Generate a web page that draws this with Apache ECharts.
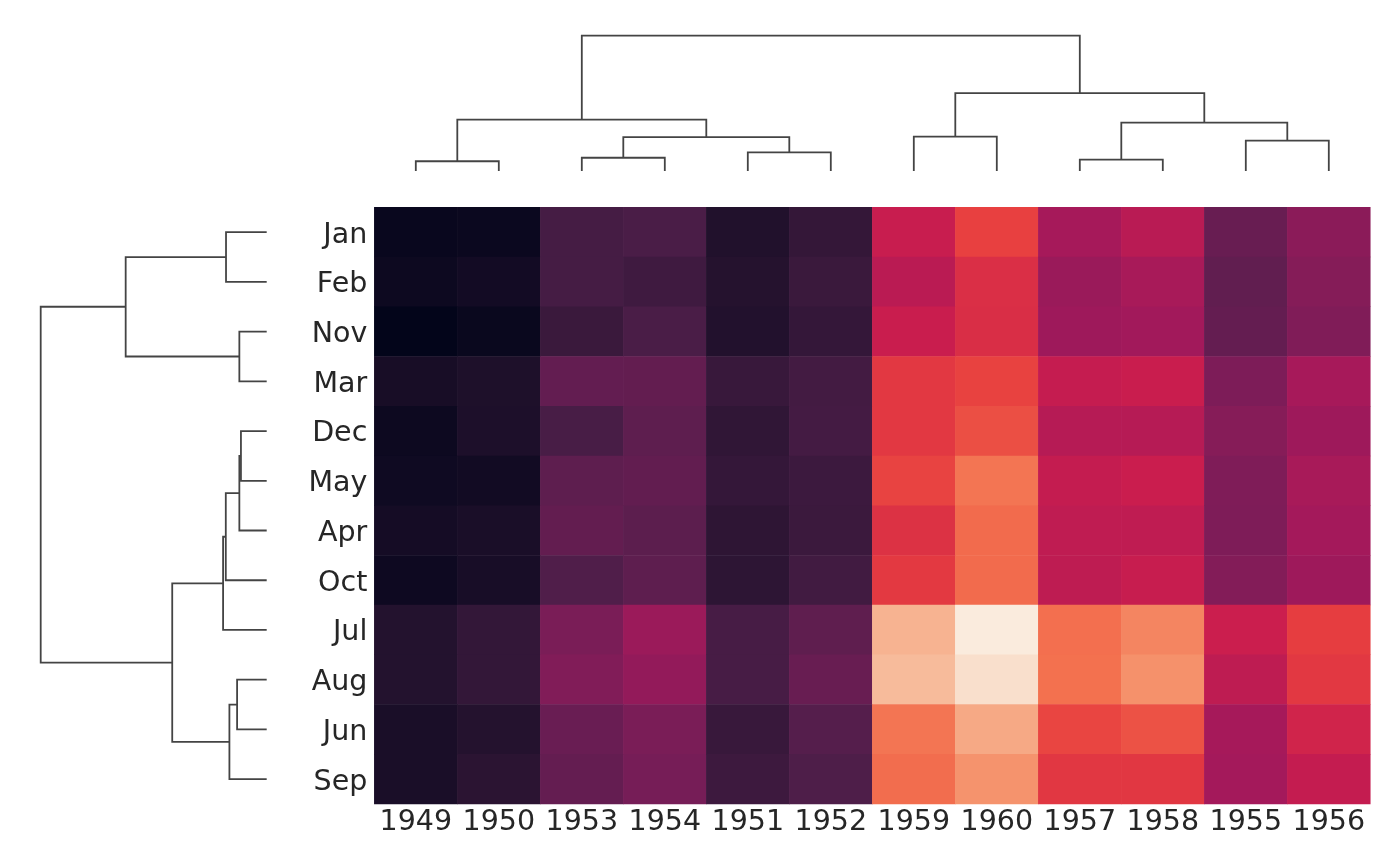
<!DOCTYPE html>
<html><head><meta charset="utf-8">
<script src="https://cdn.jsdelivr.net/npm/echarts@6/dist/echarts.min.js"></script>
<style>html,body{margin:0;padding:0;background:#fff}#c{width:1400px;height:866px}</style>
</head><body><div id="c"></div>
<script>
// Display order (after clustering)
const rowLabels = ['Jan','Feb','Nov','Mar','Dec','May','Apr','Oct','Jul','Aug','Jun','Sep'];
const colLabels = ['1949','1950','1953','1954','1951','1952','1959','1960','1957','1958','1955','1956'];
// Calendar order of the monthly values below
const calendarMonths = ['Jan','Feb','Mar','Apr','May','Jun','Jul','Aug','Sep','Oct','Nov','Dec'];
// Passengers per year, Jan..Dec
const p1949 = [112,118,132,129,121,135,148,148,136,119,104,118];
const p1950 = [115,126,141,135,125,149,170,170,158,133,114,140];
const p1951 = [145,150,178,163,172,178,199,199,184,162,146,166];
const p1952 = [171,180,193,181,183,218,230,242,209,191,172,194];
const p1953 = [196,196,236,235,229,243,264,272,237,211,180,201];
const p1954 = [204,188,235,227,234,264,302,293,259,229,203,229];
const p1955 = [242,233,267,269,270,315,364,347,312,274,237,278];
const p1956 = [284,277,317,313,318,374,413,405,355,306,271,306];
const p1957 = [315,301,356,348,355,422,465,467,404,347,305,336];
const p1958 = [340,318,362,348,363,435,491,505,404,359,310,337];
const p1959 = [360,342,406,396,420,472,548,559,463,407,362,405];
const p1960 = [417,391,419,461,472,535,622,606,508,461,390,432];
const passengersByYear = {'1949':p1949,'1950':p1950,'1951':p1951,'1952':p1952,'1953':p1953,'1954':p1954,
  '1955':p1955,'1956':p1956,'1957':p1957,'1958':p1958,'1959':p1959,'1960':p1960};

// Linkage (scipy style, leaves = display indices, new nodes numbered from 12), [a, b, distance]
const colLinkage = [[0,1,7.2],[8,9,8.4],[2,3,9.8],[4,5,13.8],[10,11,22.4],[14,15,25.1],
  [6,7,25.4],[13,16,35.7],[12,17,37.9],[18,19,57.6],[20,21,100]];
const rowLinkage = [[4,5,11.4],[2,3,12.1],[12,6,12.1],[9,10,13.1],[15,11,16.5],[0,1,18.0],
  [14,7,18.1],[18,8,19.3],[19,16,41.8],[17,13,62.4],[21,20,100]];

const rocketColors = ['#03051A','#291431','#4D1E49','#761D57','#A3195B','#CA1D4E',
  '#E73E3F','#F3714F','#F69C75','#F7C4A6','#FAEBDD'];
const colorMin = 104, colorMax = 622;

const heatData = [];
colLabels.forEach((y, xi) => {
  rowLabels.forEach((m, yi) => {
    heatData.push([xi, yi, passengersByYear[y][calendarMonths.indexOf(m)]]);
  });
});

function dendroLinks(linkage, n, horizontal) {
  const pos = [], h = [];
  for (let i = 0; i < n; i++) { pos.push(i + 0.5); h.push(0); }
  const out = [];
  linkage.forEach(([a, b, d]) => {
    const pts = [[pos[a], h[a]], [pos[a], d], [pos[b], d], [pos[b], h[b]]];
    out.push({coords: horizontal ? pts.map(p => [p[1], p[0]]) : pts});
    pos.push((pos[a] + pos[b]) / 2); h.push(d);
  });
  return out;
}

const font = 'DejaVu Sans';
const chart = echarts.init(document.getElementById('c'), null, {renderer: 'canvas'});
chart.setOption({
  animation: false,
  backgroundColor: '#fff',
  grid: [
    {left: 374.3, top: 207.3, width: 996, height: 596.7},
    {left: 374.3, top: 28.9, width: 996, height: 142.1},
    {left: 29.4, top: 207.3, width: 237.3, height: 596.7}
  ],
  xAxis: [
    {type: 'category', data: colLabels, gridIndex: 0, axisLine: {show: false}, axisTick: {show: false},
      axisLabel: {interval: 0, fontFamily: font, fontSize: 28.5, color: '#262626', margin: 4}, splitLine: {show: false}},
    {type: 'value', gridIndex: 1, min: 0, max: 12, show: false},
    {type: 'value', gridIndex: 2, min: 0, max: 105, inverse: true, show: false}
  ],
  yAxis: [
    {type: 'category', data: rowLabels, gridIndex: 0, inverse: true, axisLine: {show: false}, axisTick: {show: false},
      axisLabel: {interval: 0, margin: 7, formatter: v => '{m|' + v + '}',
        rich: {m: {fontFamily: font, fontSize: 28.5, color: '#262626', padding: [6, 0, 0, 0]}}},
      splitLine: {show: false}},
    {type: 'value', gridIndex: 1, min: 0, max: 105, show: false},
    {type: 'value', gridIndex: 2, min: 0, max: 12, inverse: true, show: false}
  ],
  visualMap: {type: 'continuous', show: false, min: colorMin, max: colorMax, seriesIndex: 0, dimension: 2,
    inRange: {color: rocketColors}},
  series: [
    {type: 'heatmap', xAxisIndex: 0, yAxisIndex: 0, data: heatData, itemStyle: {borderWidth: 0}, progressive: 0},
    {type: 'lines', coordinateSystem: 'cartesian2d', xAxisIndex: 1, yAxisIndex: 1, polyline: true,
      data: dendroLinks(colLinkage, colLabels.length, false),
      lineStyle: {color: '#444444', width: 1.8, opacity: 1}, silent: true},
    {type: 'lines', coordinateSystem: 'cartesian2d', xAxisIndex: 2, yAxisIndex: 2, polyline: true,
      data: dendroLinks(rowLinkage, rowLabels.length, true),
      lineStyle: {color: '#444444', width: 1.8, opacity: 1}, silent: true}
  ]
});
</script></body></html>
